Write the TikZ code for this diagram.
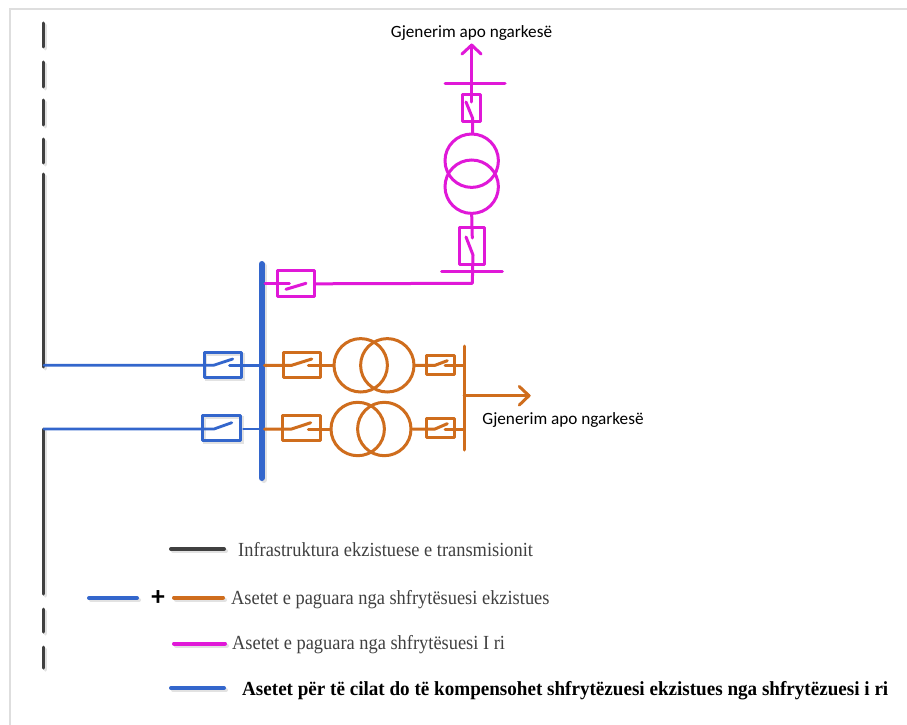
\documentclass[tikz,border=0pt]{standalone}
\usepackage{fontspec}
\setmainfont{Liberation Serif}
\newfontfamily\labelfont{Carlito}
\newfontfamily\legendfont[FakeStretch=0.92]{Liberation Serif}
\newfontfamily\legendboldfont[FakeStretch=0.955]{Liberation Serif Bold}
\definecolor{cblue}{HTML}{3366CC}
\definecolor{corange}{HTML}{CF6D1D}
\definecolor{cmag}{HTML}{E018D8}
\definecolor{cdark}{HTML}{404040}
\definecolor{cframe}{HTML}{DEDEDE}
\definecolor{cshadow}{HTML}{E2E2E2}
\tikzset{
  x=1pt,y=-1pt,
  wire/.style={line width=#1,line cap=round,line join=round},
  wire/.default=3pt,
  shade copy/.style={draw=cshadow,transform canvas={shift={(2pt,-2pt)}}},
  box/.style={draw=#1,line width=3pt,rectangle,inner sep=0pt,line join=round},
  ring/.style={draw=#1,line width=3pt,circle,inner sep=0pt,minimum size=53.4pt},
  labeltext/.style={inner sep=0pt,font=\labelfont\fontsize{17.2}{20}\selectfont,text=black},
  legendtext/.style={inner sep=0pt,anchor=west,font=\legendfont\fontsize{20}{22}\selectfont,text=cdark},
  legendline/.style={wire=4pt},
}
\begin{document}
\begin{tikzpicture}
\useasboundingbox (0,0) rectangle (907,725);
\fill[white] (0,0) rectangle (907,725);
\draw[cframe,line width=2pt] (907,9.5) -- (10,9.5) -- (10,725);

% legend and bus coordinates
\coordinate (busTop) at (261.7,264);
\coordinate (busBot) at (261.7,478);
\coordinate (l1a) at (171,549); \coordinate (l1b) at (224,549);
\coordinate (l2a) at (89,598);  \coordinate (l2b) at (137,598);
\coordinate (l3a) at (174,597.5); \coordinate (l3b) at (223,597.5);
\coordinate (l4a) at (174,643.5); \coordinate (l4b) at (225,643.5);
\coordinate (l5a) at (171,688); \coordinate (l5b) at (224,688);

% soft shadows
\foreach \a/\b in {23/47,62/87,100/125,139/163,174/367,429/594,609/632,647/668}
  \draw[wire=3pt,shade copy] (43.5,\a) -- (43.5,\b);
\draw[wire=6pt,shade copy] (busTop) -- (busBot);
\foreach \p/\q in {l1a/l1b,l2a/l2b,l3a/l3b,l4a/l4b,l5a/l5b}
  \draw[wire=4pt,shade copy] (\p) -- (\q);
\draw[shade copy,line width=2.8pt] (204,352.3) rectangle (241.6,377.3);
\draw[shade copy,line width=2.8pt] (202.7,415.7) rectangle (240.7,441);

% existing transmission line
\foreach \a/\b in {23/47,62/87,100/125,139/163,174/367,429/594,609/632,647/668}
  \draw[cdark,wire=3pt] (43.5,\a) -- (43.5,\b);

% busbar
\draw[cblue,wire=6pt] (busTop) -- (busBot);

% feeders, blue breakers
\coordinate (feedA) at (44,365.3);
\coordinate (feedB) at (44,429);
\coordinate (busA) at (261.7,365.3);
\coordinate (busB) at (261.7,429);
\node[box=cblue,minimum width=37.6pt,minimum height=25pt] (brkA) at (222.8,364.8) {};
\node[box=cblue,minimum width=38pt,minimum height=25.3pt] (brkB) at (221.7,428.3) {};
\draw[cblue,wire=2.8pt] (feedA) -- (213.5,365.3) -- (232.7,359);
\draw[cblue,wire=2.8pt] (229.5,365.3) -- (busA);
\draw[cblue,wire=2.8pt] (feedB) -- (214,429) -- (231.7,422.7);
\draw[cblue,wire=2.8pt] (243.5,429) -- (busB);

% orange row 1
\coordinate (obusA) at (464,365.3);
\coordinate (obusB) at (464,429);
\coordinate (obusTop) at (464,346);
\coordinate (obusBot) at (464,450);
\node[box=corange,minimum width=37.4pt,minimum height=25pt] (obrkA) at (302,364.8) {};
\node[ring=corange] (tA1) at (360.7,365.3) {};
\node[ring=corange] (tA2) at (387.3,365.3) {};
\node[box=corange,minimum width=28pt,minimum height=19pt] (sbrkA) at (440,364.5) {};
\draw[corange,wire] (264.5,365.3) -- (291.7,365.3) -- (311.7,359);
\draw[corange,wire] (308.3,365.3) -- (tA1.west);
\draw[corange,wire] (tA2.east) -- (435,365.3) -- (447.3,360.7);
\draw[corange,wire] (445,365.3) -- (obusA);

% orange row 2
\node[box=corange,minimum width=37.4pt,minimum height=25.3pt] (obrkB) at (301.3,428.3) {};
\node[ring=corange] (tB1) at (357.7,429) {};
\node[ring=corange] (tB2) at (384.3,429) {};
\node[box=corange,minimum width=28pt,minimum height=19pt] (sbrkB) at (440,427.8) {};
\draw[corange,wire] (264.5,429) -- (291.7,429) -- (310.7,422.7);
\draw[corange,wire] (308.3,429) -- (tB1.west);
\draw[corange,wire] (tB2.east) -- (435,429) -- (447.3,423.7);
\draw[corange,wire] (445,429) -- (obusB);

% orange bar and arrow
\draw[corange,wire] (obusTop) -- (obusBot);
\coordinate (oArrowStart) at (464,395.7);
\coordinate (oArrowTip) at (529,395.7);
\draw[corange,wire] (oArrowStart) -- (oArrowTip);
\draw[corange,wire] (519.3,386.5) -- (oArrowTip) -- (519.3,405);

% magenta
\node[box=cmag,minimum width=37.4pt,minimum height=25.7pt] (mbrkH) at (296,283.8) {};
\node[box=cmag,minimum width=18.4pt,minimum height=26.7pt] (mbrkS) at (471.5,108.3) {};
\node[box=cmag,minimum width=25.4pt,minimum height=37.3pt] (mbrkL) at (472,246.3) {};
\node[ring=cmag] (tM1) at (471.7,160.7) {};
\node[ring=cmag] (tM2) at (471.7,186.7) {};
\coordinate (mCorner) at (472.3,283.3);
\coordinate (mArrowTip) at (471.7,45);
\coordinate (mBarTopL) at (445,83);
\coordinate (mBarTopR) at (505,83);
\coordinate (mBarLowL) at (441.7,271);
\coordinate (mBarLowR) at (502.3,271);
\draw[cmag,wire] (mBarTopL) -- (mBarTopR);
\draw[cmag,wire] (mBarLowL) -- (mBarLowR);
\draw[cmag,wire] (mArrowTip) -- (471.7,102);
\draw[cmag,wire] (462,54) -- (mArrowTip) -- (481,54);
\draw[cmag,wire] (466,102) -- (472.7,118.5) -- (472.7,133);
\draw[cmag,wire] (tM2.south) -- (472.3,238);
\draw[cmag,wire] (466,237) -- (473,255) -- (mCorner) -- (mbrkH.east);
\draw[cmag,wire] (265,283) -- (289.3,283);
\draw[cmag,wire] (286,289.3) -- (306,283.3);

% labels
\node[labeltext] (lblTop) at (471.5,33.5) {Gjenerim apo ngarkesë};
\node[labeltext] (lblRight) at (563,420.5) {Gjenerim apo ngarkesë};

% legend
\draw[cdark,legendline] (l1a) -- (l1b);
\draw[cblue,legendline] (l2a) -- (l2b);
\draw[corange,legendline] (l3a) -- (l3b);
\draw[cmag,legendline] (l4a) -- (l4b);
\draw[cblue,legendline] (l5a) -- (l5b);
\node[inner sep=0pt,font=\labelfont\bfseries\fontsize{27}{29}\selectfont] (plus) at (158,598.5) {+};
\node[legendtext] (t1) at (238,549.5) {Infrastruktura ekzistuese e transmisionit};
\node[legendtext] (t2) at (231,599.5) {Asetet e paguara nga shfrytësuesi ekzistues};
\node[legendtext] (t3) at (232,644.5) {Asetet e paguara nga shfrytësuesi I ri};
\node[legendtext,text=black,font=\legendboldfont\fontsize{20}{22}\selectfont] (t4) at (242,690.5) {Asetet për të cilat do të kompensohet shfrytëzuesi ekzistues nga shfrytëzuesi i ri};
\end{tikzpicture}
\end{document}
